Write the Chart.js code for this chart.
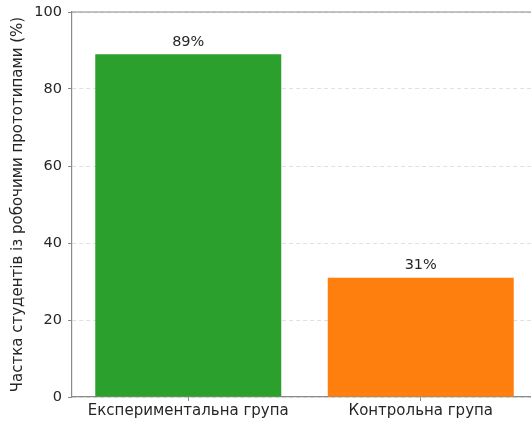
<!DOCTYPE html>
<html>
<head>
<meta charset="utf-8">
<script src="https://cdn.jsdelivr.net/npm/chart.js@4/dist/chart.umd.min.js"></script>
<style>
  html, body { margin: 0; padding: 0; background: #fff; overflow: hidden; }
  #chart { display: block; }
</style>
</head>
<body>
<canvas id="chart" width="545" height="423"></canvas>
<script>
//--- Data
var groups = ['Експериментальна група', 'Контрольна група'];
var shares = [89, 31];
var barColors = ['#2ca02c', '#ff7f0e'];
var yTicks = [0, 20, 40, 60, 80, 100];
var yTitle = 'Частка студентів із робочими прототипами (%)';

var FONT = 'DejaVu Sans';
var TEXT = '#262626';
var SPINE = '#8a8a8a';

//--- Value labels above the bars + top spine
var extras = {
    id: 'extras',
    afterDatasetsDraw: function(chart) {
        var ctx = chart.ctx;
        var meta = chart.getDatasetMeta(0);
        ctx.save();
        ctx.font = '14.5px "' + FONT + '"';
        ctx.fillStyle = TEXT;
        ctx.textAlign = 'center';
        ctx.textBaseline = 'middle';
        meta.data.forEach(function(bar, i) {
            ctx.fillText(shares[i] + '%', bar.x, bar.y - 12.5);
        });
        var a = chart.chartArea;
        ctx.strokeStyle = SPINE;
        ctx.lineWidth = 1.2;
        ctx.beginPath();
        ctx.moveTo(a.left, a.top);
        ctx.lineTo(a.right, a.top);
        ctx.stroke();
        ctx.restore();
    }
};

var chart = new Chart(document.getElementById('chart').getContext('2d'), {
    type: 'bar',
    data: {
        labels: groups,
        datasets: [{
            data: shares,
            backgroundColor: barColors,
            borderWidth: 0,
            barPercentage: 0.8,
            categoryPercentage: 1.0
        }]
    },
    options: {
        responsive: false,
        animation: false,
        layout: {padding: {left: 0, top: 12, right: 8, bottom: 0}},
        plugins: {legend: {display: false}, tooltip: {enabled: false}},
        scales: {
            x: {
                grid: {offset: false, drawOnChartArea: false, tickLength: 4, tickColor: SPINE, tickWidth: 1},
                border: {color: SPINE, width: 1.2},
                ticks: {color: TEXT, font: {family: FONT, size: 15}, padding: 1, maxRotation: 0},
                afterFit: function(scale) { scale.height = 26; }
            },
            y: {
                min: 0, max: 100,
                afterBuildTicks: function(scale) {
                    scale.ticks = yTicks.map(function(v) { return {value: v}; });
                },
                grid: {color: 'rgba(0,0,0,0.12)', lineWidth: 1, tickLength: 4, tickColor: SPINE, tickWidth: 1},
                border: {color: SPINE, width: 1.2, dash: [4, 3]},
                ticks: {color: TEXT, font: {family: FONT, size: 14.5, lineHeight: 0.8}, padding: 6},
                title: {display: true, text: yTitle, color: TEXT, font: {family: FONT, size: 15}, padding: {top: 9, bottom: 2}},
                afterFit: function(scale) { scale.width = 72; }
            }
        }
    },
    plugins: [extras]
});
</script>
</body>
</html>
